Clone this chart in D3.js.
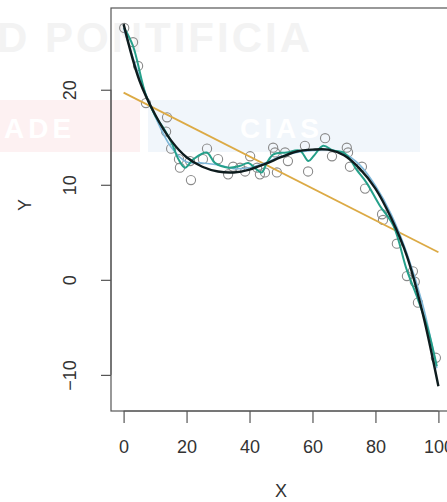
<!DOCTYPE html>
<html><head><meta charset="utf-8">
<script src="https://cdn.jsdelivr.net/npm/d3@7"></script>
<style>html,body{margin:0;padding:0;background:#fff;overflow:hidden}</style>
</head><body>
<svg id="c" width="447" height="502"></svg>
<script>
// ---- data ----
const pointX = [0.2,3.0,4.6,7.1,13.8,13.5,15.1,17.6,17.9,21.4,21.1,26.5,25.2,30.0,33.2,34.8,37.0,38.6,40.2,42.4,43.3,44.9,47.5,48.1,48.7,51.3,52.2,57.6,58.6,64.0,66.2,70.9,71.3,71.9,75.7,76.7,82.1,82.4,86.8,90.0,91.9,92.5,93.5,99.2];
const pointY = [26.5,25.0,22.5,18.6,17.1,15.6,13.8,12.7,11.8,10.5,12.5,13.8,12.7,12.7,11.1,11.9,11.8,11.4,13.0,11.8,11.1,11.3,13.9,13.4,11.3,13.4,12.5,14.1,11.4,14.9,13.0,13.9,13.4,11.9,11.9,9.6,6.9,6.3,3.8,0.4,0.9,-0.2,-2.4,-8.2];

const linearX = [0,100];
const linearY = [19.7,2.9];

const cubicX = [0,5,10,15,20,25,30,35,40,45,50,55,60,65,70,75,80,85,90,95,100];
const cubicY = [26.9,21.0,17.4,14.7,12.9,11.9,11.4,11.3,11.6,12.2,12.9,13.5,13.7,13.7,13.1,11.7,9.6,6.5,2.5,-3.5,-11.2];

const splineX = [0,5,10,15,20,25,30,35,40,45,50,55,60,65,70,75,80,85,90,95,99.5];
const splineY = [26.5,21.4,17.2,14.0,12.4,12.3,12.1,11.7,11.8,12.3,13.0,13.4,13.6,13.7,13.3,12.1,9.9,6.9,2.8,-2.6,-9.3];

const smoothX = [0.2,3,7,10,13,15.3,17.4,19.5,22.2,26.4,29.0,33.3,37.0,39.6,42.3,43.9,45.5,47.6,51.8,56.0,58.7,60.3,63.4,66.6,69.8,71.9,74.0,77.2,81.4,85.7,89.9,93.1,96.5,99.5];
const smoothY = [26.5,24.6,19.5,17.3,15.8,14.4,12.7,11.8,12.7,13.4,12.3,11.8,12.0,12.3,11.6,11.3,12.3,13.2,13.4,13.6,12.5,13.0,14.1,13.6,13.4,12.7,11.6,10.2,7.8,5.7,1.1,-1.7,-5.0,-9.1];

const xTicks = [0,20,40,60,80,100];
const yTicks = [-10,0,10,20];

// ---- drawing ----
const svg = d3.select("#c");
const font = "'Liberation Sans', Arial, Helvetica, sans-serif";

// faint background watermark (scan artefact)
const wm = svg.append("g");
wm.append("rect").attr("x",0).attr("y",100).attr("width",140).attr("height",52).attr("fill","#fdf1f2");
wm.append("rect").attr("x",148).attr("y",100).attr("width",272).attr("height",52).attr("fill","#f1f6fb");
wm.append("text").attr("x",-3).attr("y",52).attr("font-family",font).attr("font-weight","bold")
  .attr("font-size",42).attr("letter-spacing",3).attr("fill","#f3f3f3").text("D PONTIFICIA");
wm.append("text").attr("x",4).attr("y",138).attr("font-family",font).attr("font-weight","bold")
  .attr("font-size",28).attr("letter-spacing",4).attr("fill","#ffffff").text("ADE");
wm.append("text").attr("x",240).attr("y",138).attr("font-family",font).attr("font-weight","bold")
  .attr("font-size",28).attr("letter-spacing",4).attr("fill","#ffffff").text("CIAS");

const x = d3.scaleLinear().domain([-4,104]).range([111,451]);
const y = d3.scaleLinear().domain([-13.8,28.6]).range([411,8]);

// plot box
svg.append("rect").attr("x",111).attr("y",8).attr("width",340).attr("height",403)
  .attr("fill","none").attr("stroke","#555").attr("stroke-width",1.2);

// x axis
const xa = svg.append("g").attr("transform","translate(0,411)")
  .call(d3.axisBottom(x).tickValues(xTicks).tickSize(12).tickPadding(17).tickFormat(d3.format("d")));
xa.select(".domain").attr("stroke","#555").attr("d", `M${x(0)},0H${x(100)}`);
xa.selectAll(".tick line").attr("stroke","#555").attr("stroke-width",1.2);
xa.selectAll(".tick text").attr("font-family",font).attr("font-size",18).attr("fill","#333");

// y axis
const ya = svg.append("g").attr("transform","translate(111,0)")
  .call(d3.axisLeft(y).tickValues(yTicks).tickSize(10).tickFormat(d => d < 0 ? "\u2212" + Math.abs(d) : d));
ya.select(".domain").attr("stroke","#555").attr("d", `M0,${y(-10)}V${y(20)}`);
ya.selectAll(".tick line").attr("stroke","#555").attr("stroke-width",1.2);
ya.selectAll(".tick text").attr("font-family",font).attr("font-size",18).attr("fill","#333")
  .attr("text-anchor","middle").attr("x",null).attr("dy",null)
  .attr("transform","translate(-35,0) rotate(-90)");

// axis titles
svg.append("text").attr("x",281).attr("y",497).attr("text-anchor","middle")
  .attr("font-family",font).attr("font-size",18).attr("fill","#333").text("X");
svg.append("text").attr("transform","translate(31,205) rotate(-90)").attr("text-anchor","middle")
  .attr("font-family",font).attr("font-size",18).attr("fill","#333").text("Y");

const plot = svg.append("g");

// points
plot.selectAll("circle").data(pointX.map((v,i)=>[v,pointY[i]])).join("circle")
  .attr("cx",d=>x(d[0])).attr("cy",d=>y(d[1])).attr("r",4.6)
  .attr("fill","none").attr("stroke","#8a8a8a").attr("stroke-width",1.1);

// linear fit
plot.append("path").datum(linearX.map((v,i)=>[v,linearY[i]]))
  .attr("d", d3.line().x(d=>x(d[0])).y(d=>y(d[1])))
  .attr("fill","none").attr("stroke","#dcaa45").attr("stroke-width",1.8);

// light blue smoother
plot.append("path").datum(splineX.map((v,i)=>[v,splineY[i]]))
  .attr("d", d3.line().x(d=>x(d[0])).y(d=>y(d[1])).curve(d3.curveCatmullRom))
  .attr("fill","none").attr("stroke","#7fb8da").attr("stroke-width",1.6);

// teal wiggly smoother
plot.append("path").datum(smoothX.map((v,i)=>[v,smoothY[i]]))
  .attr("d", d3.line().x(d=>x(d[0])).y(d=>y(d[1])).curve(d3.curveCatmullRom.alpha(0.5)))
  .attr("fill","none").attr("stroke","#25a08a").attr("stroke-width",2);

// cubic fit
plot.append("path").datum(cubicX.map((v,i)=>[v,cubicY[i]]))
  .attr("d", d3.line().x(d=>x(d[0])).y(d=>y(d[1])).curve(d3.curveCatmullRom))
  .attr("fill","none").attr("stroke","#0e1c1e").attr("stroke-width",2.4);
</script>
</body></html>
